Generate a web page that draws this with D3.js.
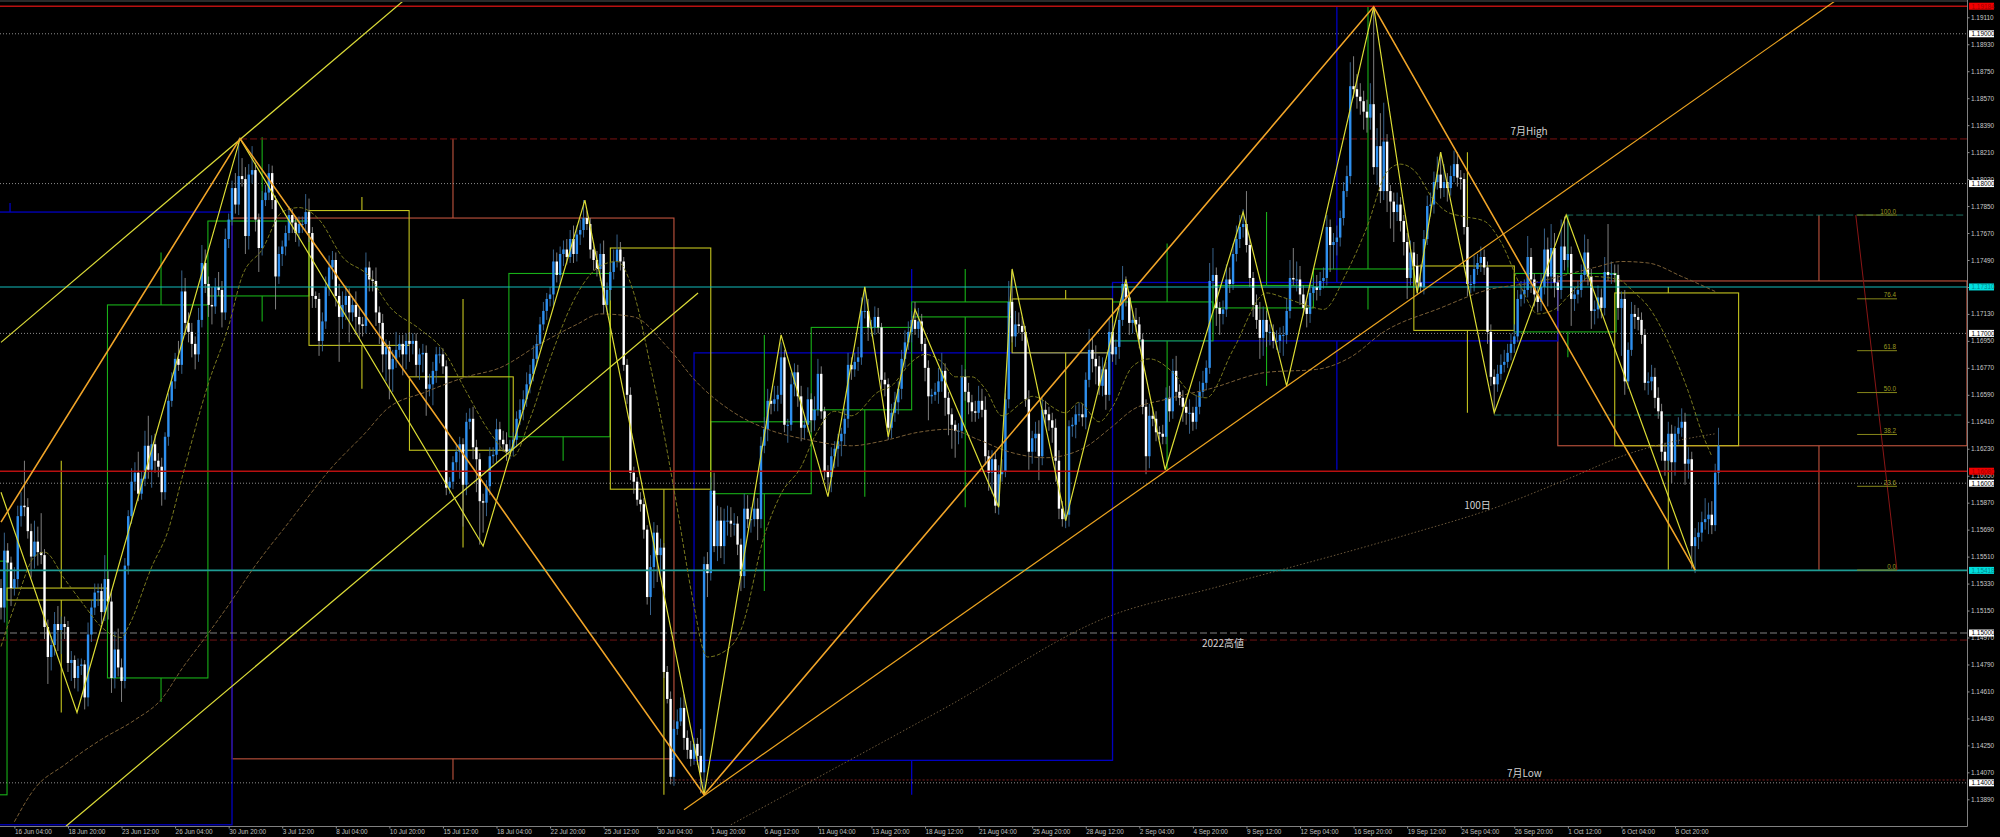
<!DOCTYPE html>
<html><head><meta charset="utf-8">
<script src="https://cdnjs.cloudflare.com/ajax/libs/d3/7.8.5/d3.min.js"></script>
<style>html,body{margin:0;padding:0;background:#000;overflow:hidden}svg{display:block}text{font-family:"Liberation Sans",Arial,sans-serif}</style>
</head><body><div id="c"></div>
<script>
// Prices are in units of 0.0001 (11517 = 1.1517); bars are 4-hour bars counted from the left edge.
const firstOpen = 11530;
const closes = [
11517,11555,11547,11530,11536,11578,11585,11584,11568,11551,
11561,11554,11552,11504,11484,11492,11506,11502,11506,11504,
11480,11482,11470,11478,11479,11457,11499,11517,11527,11528,
11514,11536,11521,11470,11489,11477,11468,11545,11578,11601,
11607,11593,11603,11625,11609,11626,11615,11611,11594,11631,
11655,11668,11683,11679,11728,11707,11701,11693,11686,11709,
11747,11733,11719,11718,11731,11729,11714,11763,11776,11797,
11786,11805,11803,11765,11806,11809,11776,11757,11789,11794,
11807,11789,11738,11753,11758,11767,11779,11774,11767,11773,
11773,11781,11767,11725,11723,11695,11708,11731,11744,11749,
11725,11711,11719,11725,11714,11719,11711,11706,11705,11744,
11736,11735,11714,11707,11686,11691,11676,11683,11689,11693,
11686,11695,11693,11695,11679,11686,11687,11663,11666,11675,
11686,11686,11678,11597,11601,11614,11621,11626,11599,11641,
11643,11624,11616,11588,11587,11598,11618,11619,11636,11629,
11626,11621,11623,11629,11643,11649,11656,11666,11673,11683,
11693,11706,11715,11723,11726,11748,11739,11753,11756,11751,
11763,11753,11766,11769,11777,11773,11756,11749,11743,11753,
11719,11729,11741,11748,11756,11748,11679,11659,11607,11601,
11589,11586,11569,11524,11544,11567,11552,11557,11474,11456,
11404,11436,11441,11450,11430,11422,11416,11426,11418,11407,
11546,11540,11595,11558,11575,11558,11575,11575,11573,11573,
11559,11538,11583,11576,11576,11583,11576,11625,11636,11655,
11653,11656,11659,11684,11639,11639,11666,11674,11658,11637,
11639,11656,11642,11649,11673,11648,11608,11604,11618,11623,
11628,11633,11643,11679,11676,11681,11684,11715,11715,11704,
11704,11711,11704,11669,11666,11637,11647,11654,11663,11683,
11694,11701,11709,11703,11708,11693,11677,11658,11659,11661,
11668,11675,11657,11646,11639,11635,11635,11671,11661,11654,
11648,11647,11655,11649,11618,11607,11616,11585,11606,11608,
11656,11721,11698,11706,11705,11701,11656,11621,11630,11633,
11618,11649,11646,11642,11637,11615,11583,11576,11579,11638,
11639,11646,11646,11644,11669,11689,11683,11678,11665,11676,
11659,11701,11686,11691,11709,11733,11724,11707,11709,11706,
11696,11651,11618,11645,11643,11634,11633,11631,11657,11648,
11675,11661,11657,11651,11647,11647,11641,11651,11661,11667,
11677,11735,11739,11717,11713,11716,11736,11733,11753,11763,
11771,11773,11759,11737,11719,11709,11697,11709,11701,11701,
11695,11695,11699,11699,11715,11737,11736,11736,11726,11717,
11713,11727,11731,11729,11735,11737,11771,11759,11761,11764,
11777,11795,11805,11865,11863,11858,11855,11848,11844,11853,
11811,11825,11795,11828,11795,11788,11781,11786,11775,11761,
11737,11754,11745,11734,11731,11763,11785,11786,11801,11806,
11797,11801,11797,11805,11813,11804,11803,11771,11733,11733,
11743,11747,11751,11744,11701,11671,11666,11673,11679,11681,
11687,11693,11698,11723,11726,11729,11751,11736,11726,11721,
11731,11756,11738,11757,11734,11729,11758,11749,11753,11723,
11726,11729,11739,11754,11738,11715,11716,11724,11717,11741,
11739,11740,11739,11717,11723,11668,11689,11713,11711,11709,
11699,11667,11668,11671,11657,11648,11621,11615,11633,11614,
11633,11637,11641,11613,11616,11558,11564,11567,11574,11576,
11579,11572,11607,11625];
const wickUp = [
6,12,5,4,8,7,9,30,6,5, 14,10,26,4,5,6,8,12,5,5, 4,6,3,5,4,3,8,5,6,5, 5,16,6,8,12,14,6,5,4,9,
7,14,5,10,20,6,7,5,6,3, 5,6,4,12,14,9,7,6,5,8, 12,9,5,12,6,10,6,7,4,5, 10,25,12,8,7,16,5,4,6,5,
6,5,3,5,4,5,6,4,4,5, 5,12,9,4,3,4,6,7,8,6, 5,8,9,7,5,6,9,6,5,10, 4,6,9,4,6,5,4,6,12,6,
6,5,6,5,5,4,6,5,7,6, 5,5,4,4,3,4,5,5,4,6, 7,8,5,4,5,4,6,5,7,5, 6,8,6,5,5,7,6,8,6,9,
6,5,6,4,5,8,6,5,6,7, 6,9,6,7,12,5,4,5,6,7, 9,5,6,8,10,5,3,4,5,4, 3,5,4,3,8,7,5,6,3,4,
5,6,8,7,9,5,6,4,4,18, 5,8,9,12,10,9,8,10,9,7, 5,4,10,9,8,10,7,6,8,8, 5,9,6,10,5,4,8,6,5,7,
6,8,4,9,10,5,3,4,6,5, 5,4,7,8,5,6,7,9,16,8, 5,7,6,3,5,4,6,7,5,6, 8,7,6,12,9,5,4,5,4,6,
9,12,5,4,4,3,5,8,5,6, 5,7,10,8,9,4,6,5,6,8, 4,14,21,9,8,6,4,6,5,8, 9,8,6,5,5,6,7,5,6,4,
5,6,8,7,5,14,8,9,7,8, 5,9,6,5,8,12,5,4,6,8, 5,4,5,8,6,5,4,6,7,8, 8,10,5,5,6,9,4,8,7,8,
5,12,18,5,4,6,10,8,7,9, 8,10,22,4,4,7,12,9,6,5, 5,7,5,6,8,12,20,12,9,6, 5,7,6,8,6,7,8,5,6,8,
5,6,7,16,20,10,9,7,8,14, 65,12,22,26,5,4,6,8,5,4, 6,8,7,8,12,6,7,8,7,12, 15,12,6,7,9,8,5,4,5,6,
9,6,7,5,4,5,5,6,7,8, 6,7,8,6,9,7,14,6,4,5, 9,14,8,16,10,5,18,20,22,5, 5,6,7,12,9,5,6,8,6,10,
32,8,6,7,5,6,5,8,6,6, 5,4,6,8,6,7,5,6,8,6, 5,7,9,6,8,5,6,7,7,14, 8,9,6,12];
const wickDown = [
8,10,6,12,5,6,7,6,5,14, 8,9,6,8,18,9,7,14,16,8, 6,12,7,9,6,8,6,5,5,9, 8,6,12,10,7,6,14,5,6,5,
6,5,4,5,6,12,8,7,9,5, 6,4,5,4,6,8,7,9,10,5, 5,6,8,12,5,4,10,5,6,4, 6,7,5,12,9,6,8,16,5,4,
5,6,22,5,8,6,5,7,6,9, 6,5,6,8,6,10,7,5,6,8, 7,30,8,10,20,6,12,9,7,5, 8,7,9,14,12,18,20,15,6,5,
14,10,12,7,8,10,12,18,5,14, 8,6,5,5,4,5,6,18,28,7, 5,8,22,29,20,9,6,5,6,7, 5,6,5,5,5,4,7,5,6,5,
5,4,4,6,5,8,5,6,8,5, 4,6,5,7,5,4,6,7,5,8, 6,5,7,5,4,6,4,6,5,8, 4,5,6,5,12,14,18,16,4,3,
5,6,4,3,8,6,5,4,6,14, 15,16,5,4,10,8,12,10,9,8, 7,10,8,6,9,5,14,6,5,8, 7,5,8,6,5,12,4,8,7,9,
8,5,8,7,4,5,6,9,10,8, 12,10,8,6,7,5,6,5,5,9, 6,5,4,6,8,8,7,6,8,7, 6,5,7,4,6,5,9,16,5,4,
8,7,12,14,16,18,9,5,6,8, 7,6,4,5,6,12,14,5,6,5, 4,6,4,7,5,6,5,12,8,9, 16,6,8,7,10,14,7,5,6,8,
7,9,5,6,8,5,9,12,6,7, 10,4,5,7,8,4,6,8,7,5, 6,5,12,8,5,6,4,5,5,7, 5,6,5,10,8,14,6,5,5,4,
5,4,5,12,14,7,5,6,4,5, 6,7,5,6,8,6,14,12,10,9, 5,6,8,14,6,5,4,8,7,5, 9,6,5,7,4,5,5,18,16,9,
6,5,4,5,6,8,9,12,10,8, 5,12,8,6,14,18,20,6,7,9, 14,5,6,8,4,5,4,7,6,5, 7,6,9,5,4,6,7,5,8,6,
5,4,6,5,8,6,18,5,4,5, 4,5,6,4,5,6,5,9,8,7, 6,5,20,8,10,14,6,7,5,18, 8,6,5,4,6,12,9,6,7,5,
4,6,5,8,32,9,5,4,8,7, 6,5,8,6,7,5,6,10,8,14, 9,7,6,14,10,15,18,8,6,5, 10,6,4,8];

const timeTicks = ["16 Jun 04:00","18 Jun 20:00","23 Jun 12:00","26 Jun 04:00","30 Jun 20:00","3 Jul 12:00","8 Jul 04:00","10 Jul 20:00","15 Jul 12:00","18 Jul 04:00","22 Jul 20:00","25 Jul 12:00","30 Jul 04:00","1 Aug 20:00","6 Aug 12:00","11 Aug 04:00","13 Aug 20:00","18 Aug 12:00","21 Aug 04:00","25 Aug 20:00","28 Aug 12:00","2 Sep 04:00","4 Sep 20:00","9 Sep 12:00","12 Sep 04:00","16 Sep 20:00","19 Sep 12:00","24 Sep 04:00","26 Sep 20:00","1 Oct 12:00","6 Oct 04:00","8 Oct 20:00"];
const priceTicks = ["1.13890","1.14070","1.14250","1.14430","1.14610","1.14790","1.14970","1.15150","1.15330","1.15510","1.15690","1.15870","1.16050","1.16230","1.16410","1.16590","1.16770","1.16950","1.17130","1.17310","1.17490","1.17670","1.17850","1.18030","1.18210","1.18390","1.18570","1.18750","1.18930","1.19110"];

// moving averages: [bar, price]
const maShort = [[0,11491],[5,11524],[10,11551],[13,11554],[19,11536],[25,11518],[30,11504],[36,11497],[38,11504],[45,11544],[50,11569],[54,11603],[62,11667],[68,11705],[72,11738],[78,11756],[84,11781],[89,11784],[95,11776],[102,11751],[110,11738],[116,11718],[125,11703],[132,11689],[139,11661],[146,11634],[153,11618],[158,11643],[164,11683],[172,11726],[179,11745],[184,11748],[189,11727],[194,11678],[197,11645],[201,11596],[207,11518],[210,11487],[211,11484],[218,11491],[221,11502],[228,11565],[233,11593],[239,11611],[243,11631],[249,11648],[254,11645],[262,11661],[266,11665],[272,11681],[276,11686],[281,11681],[285,11671],[290,11671],[294,11663],[299,11645],[305,11654],[308,11658],[318,11647],[322,11654],[328,11641],[332,11651],[338,11678],[343,11683],[350,11674],[355,11661],[360,11657],[368,11689],[378,11727],[383,11724],[391,11718],[395,11716],[402,11741],[408,11771],[414,11808],[418,11813],[422,11809],[428,11789],[432,11781],[437,11778],[443,11775],[448,11761],[454,11731],[459,11713],[464,11716],[469,11727],[475,11738],[483,11736],[488,11727],[492,11718],[498,11694],[504,11661],[508,11634],[511,11618]];
const maMid = [[4,11374],[10,11396],[19,11412],[30,11429],[40,11442],[48,11456],[54,11476],[62,11500],[69,11522],[75,11542],[86,11574],[99,11611],[109,11634],[115,11649],[127,11661],[139,11671],[149,11677],[161,11693],[172,11706],[179,11713],[189,11711],[199,11691],[208,11667],[219,11647],[229,11636],[241,11629],[254,11625],[263,11628],[274,11634],[283,11636],[292,11629],[301,11621],[312,11617],[323,11623],[332,11638],[338,11649],[348,11656],[361,11663],[378,11674],[393,11676],[403,11684],[413,11701],[430,11717],[444,11729],[458,11734],[476,11744],[484,11748],[492,11747],[502,11738],[512,11728]];
const maLong = [[218,11372],[232,11389],[282,11450],[332,11512],[362,11530],[419,11565],[448,11585],[466,11601],[488,11621],[502,11629],[512,11633]];

// zigzags and channels: [bar, price]
const zigzagFine = [[0,11594],[22.7,11447],[71.4,11830],[144,11558],[174.4,11789],[210,11392],[233,11699],[247,11591],[258,11731],[265,11631],[273,11716],[298,11584],[302,11743],[318,11575],[336,11736],[347.7,11609],[371,11781],[384,11665],[410,11918],[423,11727],[430,11821],[446,11647],[467.5,11779],[506,11542]];
const zigzagMajor = [[0,11574],[71.4,11830],[210,11392],[410,11918],[506,11542]];
const trendOrange = [[204,11382],[548.5,11923]];
const channelUpper = [[0,11694],[120.7,11923]];
const channelLower = [[19.4,11371],[208.2,11727]];
const fibTrend = [[554,11779],[566.3,11542]];

// range boxes: bar from, bar to, top, bottom, mid bar, wick high, wick low
const greenBoxes = [[-3,1.8,11548,11392,null,null,null],[31.8,61.8,11719,11470,47.8,11754,11454],[61.8,92,11775,11725,78,11831,11708],[151.7,181.9,11740,11631,167.9,11740,11615],[212,242,11641,11593,228,11699,11528],[242,272,11704,11649,258,11704,11591],[272,302,11721,11711,288,11743,11584],[332,362,11721,11695,348.3,11760,11609],[362,392,11732,11717,378,11781,11665],[392,422,11743,11731,408.3,11918,11716],[452,482.4,11740,11701,468,11779,11684]];
const yellowBoxes = [[1.8,31.7,11530,11522,18,11615,11447],[92,121.9,11782,11692,107.8,11791,11663],[122,153,11671,11622,138,11723,11557],[182,212,11757,11596,198,11757,11392],[302,332,11723,11687,318,11729,11575],[422,452,11745,11702,438,11821,11647],[482,519,11727,11625,498,11731,11542]];
const blueBoxes = [[-3,69,11781,11372,2.7,11787,11372],[207,332,11687,11415,272,11743,11392],[332,465,11734,11695,399,11918,11609]];
const salmonBoxes = [[69,201,11777,11416,135,11830,11402],[465,587.2,11735,11625,543,11779,11542]];

const roundLevels = [1.19,1.18,1.17,1.16,1.14];
const level2022 = 1.15;
const redLevels = [1.19184,1.1608];
const cyanLevel = 1.1731;
const tealLevel = 1.15418;
const monthHigh = 1.18298, monthHighFrom = 71.4;
const high2022 = 1.14953;
const monthLow = 1.14019, monthLowFrom = 200;
const fibBoundsHigh = [1.1779,467.5,587], fibBoundsMid = [1.16455,446,586];
const fibLow = 1.1542, fibHigh = 1.1779;
const fibLevels = ["0.0","23.6","38.2","50.0","61.8","76.4","100.0"];
const fibBars = [554.4,566.3];
const notes = [["7月High",456.4,1.1835],["100日",441,1.1585],["2022高値",365,1.1493],["7月Low",455,1.1406]];

const W=2000,H=837,axisX=1967.5,axisY=826.5;
const barStep=3.348;
const x=d3.scaleLinear().domain([0,513]).range([1,1+513*barStep]);
const y=d3.scaleLinear().domain([1.1911,1.1389]).range([17.3,799.3]);
const py=v=>y(v/1e4);
const svg=d3.select('#c').append('svg').attr('width',W).attr('height',H).style('background','#000');
svg.append('defs').append('clipPath').attr('id','plot').append('rect').attr('x',0).attr('y',2).attr('width',axisX).attr('height',axisY-2);
const plot=svg.append('g').attr('clip-path','url(#plot)');
const hline=(p,c,w,dash,from,to)=>plot.append('line').attr('x1',from==null?0:x(from)).attr('x2',to==null?axisX:x(to)).attr('y1',y(p)).attr('y2',y(p)).attr('stroke',c).attr('stroke-width',w).attr('stroke-dasharray',dash||null);

const boxes=(data,color,w)=>{
  const g=plot.append('g').attr('fill','none').attr('stroke',color).attr('stroke-width',w);
  g.selectAll('rect').data(data).join('rect').attr('x',d=>x(d[0])).attr('width',d=>x(d[1])-x(d[0])).attr('y',d=>py(d[2])).attr('height',d=>py(d[3])-py(d[2]));
  g.selectAll('line.h').data(data.filter(d=>d[4]!=null)).join('line').attr('class','h').attr('x1',d=>x(d[4])).attr('x2',d=>x(d[4])).attr('y1',d=>py(d[5])).attr('y2',d=>py(d[2]));
  g.selectAll('line.l').data(data.filter(d=>d[4]!=null)).join('line').attr('class','l').attr('x1',d=>x(d[4])).attr('x2',d=>x(d[4])).attr('y1',d=>py(d[3])).attr('y2',d=>py(d[6]));
};
boxes(salmonBoxes,'#c0543e',1.1);
boxes(blueBoxes,'#0000c0',1.3);
boxes(greenBoxes,'#18b018',1.1);
boxes(yellowBoxes,'#c4c41e',1.1);

roundLevels.forEach(p=>hline(p,'#b0b0b0',0.8,'1,2'));
hline(monthHigh,'#7a1212',1,'7,3',monthHighFrom);
hline(high2022,'#701414',1,'7,3');
hline(monthLow,'#8a2020',0.9,'2,2',monthLowFrom);
hline(level2022,'#808080',1.2,'7,3');
hline(fibBoundsHigh[0],'#1f7a6a',0.9,'7,3',fibBoundsHigh[1],fibBoundsHigh[2]);
hline(fibBoundsMid[0],'#1f7a6a',0.9,'7,3',fibBoundsMid[1],fibBoundsMid[2]);

// candles
const candles=closes.map((c,i)=>{const o=i?closes[i-1]:firstOpen;return {i,o,c,h:Math.max(o,c)+(wickUp[i]||0),l:Math.min(o,c)-(wickDown[i]||0)};});
const cg=plot.append('g');
cg.selectAll('line').data(candles).join('line').attr('x1',d=>x(d.i)).attr('x2',d=>x(d.i)).attr('y1',d=>py(d.h)).attr('y2',d=>py(d.l)).attr('stroke',d=>d.c>=d.o?'#3d6c98':'#8c8c8c').attr('stroke-width',0.9);
cg.selectAll('rect').data(candles).join('rect').attr('x',d=>x(d.i)-1.2).attr('width',2.4).attr('y',d=>py(Math.max(d.o,d.c))).attr('height',d=>Math.max(1,Math.abs(py(d.o)-py(d.c)))).attr('fill',d=>d.c>=d.o?'#2e8fee':'#ffffff');

hline(redLevels[0],'#b81010',1.4);
hline(redLevels[1],'#b81010',1.4);
hline(cyanLevel,'#12bcbc',1.1);
hline(tealLevel,'#1f9c94',1.6);

const path=(pts,c,w,dash,curve)=>plot.append('path').attr('fill','none').attr('stroke',c).attr('stroke-width',w).attr('stroke-dasharray',dash||null)
  .attr('d',d3.line().x(d=>x(d[0])).y(d=>py(d[1])).curve(curve||d3.curveLinear)(pts));
path(maLong,'#6e5a3c',1,'1.5,2',d3.curveMonotoneX);
path(maMid,'#7a5f36',1,'4,2',d3.curveMonotoneX);
path(maShort,'#78781e',1,'4,2',d3.curveMonotoneX);
path(channelUpper,'#dcdc38',1.2);
path(channelLower,'#dcdc38',1.2);
path(zigzagFine,'#dcdc34',1.2);
path(trendOrange,'#eca420',1.2);
path(zigzagMajor,'#f0a428',1.6);
path(fibTrend,'#8a1616',1);

// fibonacci levels
const fg=plot.append('g');
fibLevels.forEach(l=>{
  const p=fibLow+(fibHigh-fibLow)*(+l)/100;
  fg.append('line').attr('x1',x(fibBars[0])).attr('x2',x(fibBars[1])).attr('y1',y(p)).attr('y2',y(p)).attr('stroke','#86861a').attr('stroke-width',1);
  fg.append('text').attr('x',x(fibBars[1])-1).attr('y',y(p)-1.5).attr('text-anchor','end').attr('font-size',6.3).attr('fill','#9a9a20').text(l);
});

// notes
notes.forEach(n=>plot.append('text').attr('x',x(n[1])).attr('y',y(n[2])).attr('dy','0.35em').attr('text-anchor','middle').attr('font-size',10).attr('fill','#d2d2d2').style('font-family','"Noto Sans CJK JP"').text(n[0]));

// frame and axes
svg.append('line').attr('x1',0).attr('x2',axisX).attr('y1',1).attr('y2',1).attr('stroke','#555');
const priceAxis=d3.axisRight(y).tickValues(priceTicks.map(Number)).tickFormat((d,i)=>priceTicks[i]).tickSize(2).tickPadding(1.5);
const ya=svg.append('g').attr('transform',`translate(${axisX},0)`).call(priceAxis);
ya.select('.domain').attr('stroke','#808080').attr('d',`M0,0V${axisY}`);
ya.selectAll('.tick line').attr('stroke','#909090');
ya.selectAll('text').attr('fill','#c8c8c8').attr('font-size',6.4).style('font-family','"Liberation Sans"');
const tickBars=timeTicks.map((_,k)=>4+16*k);
const timeAxis=d3.axisBottom(x).tickValues(tickBars).tickFormat((d,i)=>timeTicks[i]).tickSize(2).tickPadding(0.5);
const xa=svg.append('g').attr('transform',`translate(0,${axisY})`).call(timeAxis);
xa.select('.domain').attr('stroke','#808080').attr('d',`M0,0H${axisX}`);
xa.selectAll('.tick line').attr('stroke','#909090');
xa.selectAll('text').attr('fill','#c0c0c0').attr('font-size',6.4).attr('text-anchor','start').style('font-family','"Liberation Sans"');

// price tags
const tag=(p,bg,fg,label)=>{
  const g=svg.append('g').attr('transform',`translate(${axisX+1.5},${y(p)})`);
  g.append('rect').attr('x',0).attr('y',-3.5).attr('width',25).attr('height',7).attr('fill',bg);
  g.append('text').attr('x',2.5).attr('y',0).attr('dy','0.36em').attr('font-size',6.4).attr('fill',fg).text(label);
};
roundLevels.concat([level2022]).forEach(p=>tag(p,'#ffffff','#000',p.toFixed(5)));
redLevels.forEach(p=>tag(p,'#f00000','#a00000',p.toFixed(5)));
tag(cyanLevel,'#00dede','#008a8a',cyanLevel.toFixed(5));
tag(tealLevel,'#00dede','#008a8a',tealLevel.toFixed(5));
</script></body></html>
